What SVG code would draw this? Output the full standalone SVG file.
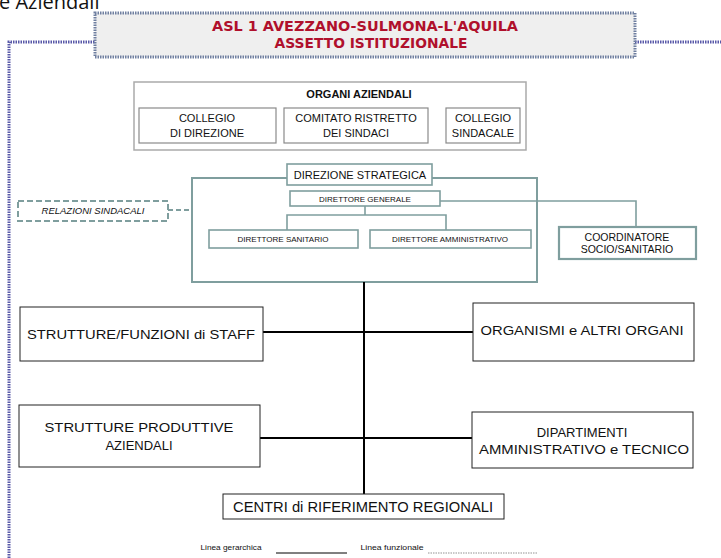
<svg xmlns="http://www.w3.org/2000/svg" width="721" height="558" viewBox="0 0 721 558">
<style>
text{font-family:"Liberation Sans",Arial,sans-serif;fill:#111;text-anchor:middle}
.gray{fill:#fff;stroke:#8a8a8a;stroke-width:1.2}
.teal{fill:#fff;stroke:#7f9e9e;stroke-width:1.6}
.tealline{fill:none;stroke:#7f9e9e;stroke-width:1.6}
.blk{fill:#fff;stroke:#222;stroke-width:1}
.hl{fill:none;stroke:#000;stroke-width:2}
.t11{font-size:11px}
.t8{font-size:8px}
.t13{font-size:13px}
.title{font-family:"DejaVu Sans",sans-serif;font-weight:bold;font-size:14px;fill:#b0102c}
</style>
<text x="-1" y="9" style="font-family:'Open Sans',sans-serif;font-size:20px;text-anchor:start">e Aziendali</text>
<g id="frame">
<path d="M9,558 V42 H95 M635,42 H721" fill="none" stroke="#5858a8" stroke-width="3" stroke-dasharray="1.5 1"/>
</g>
<g id="title">
<rect x="95" y="13" width="540" height="44" fill="#efefef" stroke="#6f7fa0" stroke-width="3" stroke-dasharray="1.5 1"/>
<text class="title" x="365" y="31" textLength="306" lengthAdjust="spacingAndGlyphs">ASL 1  AVEZZANO-SULMONA-L'AQUILA</text>
<text class="title" x="371" y="48" textLength="193" lengthAdjust="spacingAndGlyphs">ASSETTO ISTITUZIONALE</text>
</g>
<g id="organi">
<rect x="134" y="82" width="392" height="68" fill="#fff" stroke="#aaa" stroke-width="1.5"/>
<text x="359" y="98" class="t11" font-weight="bold">ORGANI AZIENDALI</text>
</g>
<g id="collegio-direzione">
<rect class="gray" x="139" y="108" width="137" height="35"/>
<text class="t11" x="207" y="122">COLLEGIO</text>
<text class="t11" x="207" y="137">DI DIREZIONE</text>
</g>
<g id="comitato">
<rect class="gray" x="284" y="108" width="144" height="35"/>
<text class="t11" x="356" y="122">COMITATO RISTRETTO</text>
<text class="t11" x="356" y="137">DEI SINDACI</text>
</g>
<g id="collegio-sindacale">
<rect class="gray" x="446" y="108" width="74" height="35"/>
<text class="t11" x="483" y="122">COLLEGIO</text>
<text class="t11" x="483" y="137">SINDACALE</text>
</g>
<g id="direzione-strategica">
<rect x="192" y="178" width="345" height="104" fill="#fff" stroke="#7f9e9e" stroke-width="2"/>
<rect class="teal" x="287" y="164" width="145" height="21"/>
<text class="t11" x="360" y="179">DIREZIONE STRATEGICA</text>
</g>
<g id="connectors">
<path class="tealline" d="M365,206 V215 M287,230 V215 H446 V230"/>
<path class="tealline" d="M440,201 H636 V227"/>
<path d="M168,210 H192" fill="none" stroke="#7f9e9e" stroke-width="2" stroke-dasharray="5 3"/>
<path class="hl" d="M364,282 V494 M263,332 H473 M260,438 H472"/>
<path d="M276,553 H347" stroke="#000" stroke-width="1"/>
<path d="M428,553 H538" stroke="#777" stroke-width="0.8" stroke-dasharray="1.5 1"/>
</g>
<g id="direttore-generale">
<rect class="teal" x="290" y="191" width="150" height="15"/>
<text class="t8" x="365" y="202">DIRETTORE GENERALE</text>
</g>
<g id="direttore-sanitario">
<rect class="teal" x="209" y="230" width="149" height="18"/>
<text class="t8" x="283" y="242">DIRETTORE SANITARIO</text>
</g>
<g id="direttore-amministrativo">
<rect class="teal" x="370" y="230" width="161" height="18"/>
<text class="t8" x="450" y="242">DIRETTORE AMMINISTRATIVO</text>
</g>
<g id="coordinatore">
<rect x="559" y="227" width="137" height="32" fill="#fff" stroke="#7f9e9e" stroke-width="2.2"/>
<text x="627" y="241" font-size="10.5px">COORDINATORE</text>
<text x="627" y="253" font-size="10.5px">SOCIO/SANITARIO</text>
</g>
<g id="relazioni-sindacali">
<rect x="18" y="201" width="150" height="20" fill="#fff" stroke="#7f9e9e" stroke-width="2" stroke-dasharray="6 3"/>
<text x="93" y="214" font-size="9.5px" font-style="italic">RELAZIONI SINDACALI</text>
</g>
<g id="staff">
<rect class="blk" x="20" y="307" width="243" height="54"/>
<text class="t13" x="141" y="339" textLength="228" lengthAdjust="spacingAndGlyphs">STRUTTURE/FUNZIONI di STAFF</text>
</g>
<g id="organismi">
<rect class="blk" x="473" y="303" width="221" height="58"/>
<text class="t13" x="582" y="335" textLength="203" lengthAdjust="spacingAndGlyphs">ORGANISMI e ALTRI ORGANI</text>
</g>
<g id="strutture-produttive">
<rect class="blk" x="19" y="405" width="241" height="62"/>
<text class="t13" x="139" y="432" textLength="189" lengthAdjust="spacingAndGlyphs">STRUTTURE PRODUTTIVE</text>
<text class="t13" x="139" y="450">AZIENDALI</text>
</g>
<g id="dipartimenti">
<rect class="blk" x="472" y="412" width="221" height="56"/>
<text class="t13" x="582" y="437">DIPARTIMENTI</text>
<text class="t13" x="584" y="454" textLength="210" lengthAdjust="spacingAndGlyphs">AMMINISTRATIVO e TECNICO</text>
</g>
<g id="centri">
<rect class="blk" x="223" y="494" width="281" height="25"/>
<text x="363" y="512" font-size="14.5px" textLength="260" lengthAdjust="spacingAndGlyphs">CENTRI di RIFERIMENTO REGIONALI</text>
</g>
<g id="legend">
<text x="231" y="550" font-size="7.5px" textLength="61" lengthAdjust="spacingAndGlyphs">Linea gerarchica</text>
<text x="392" y="550" font-size="7.5px" textLength="63" lengthAdjust="spacingAndGlyphs">Linea funzionale</text>
</g>
</svg>
